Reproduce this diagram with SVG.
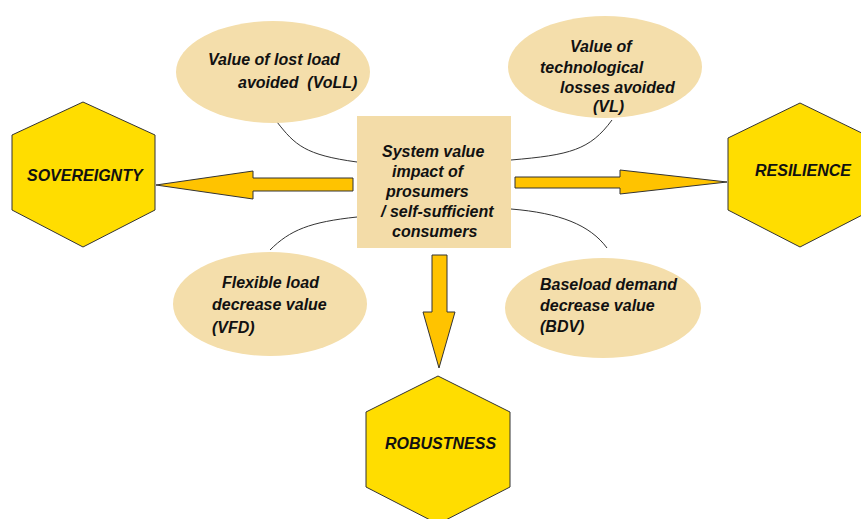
<svg xmlns="http://www.w3.org/2000/svg" width="861" height="519" viewBox="0 0 861 519">
<style>
.hex{fill:#FFDD00;stroke:#333;stroke-width:1}
.arr{fill:#FFC300;stroke:#333;stroke-width:1}
.ell{fill:#F4DEAB}
.box{fill:#F3DCA8}
.con{fill:none;stroke:#333;stroke-width:1}
text{font-family:"Liberation Sans",Arial,sans-serif;font-weight:bold;font-style:italic;font-size:16px;fill:#111}
</style>
<rect width="861" height="519" fill="#fff"/>
<g id="connectors">
<path class="con" d="M277,122 C295,145 305,155 357,162"/>
<path class="con" d="M612,120 C590,150 570,155 511,160"/>
<path class="con" d="M357,217 C310,222 290,230 270,250"/>
<path class="con" d="M511,209 C560,213 590,225 607,248"/>
<path class="arr" d="M353,178 L253,178 L253,171 L156,185 L253,199 L253,191 L353,191 Z"/>
<path class="arr" d="M515,177 L620,177 L620,170 L727,182 L620,194 L620,188 L515,188 Z"/>
<path class="arr" d="M432,255 L447,255 L447,312 L455,312 L439,368 L423,312 L432,312 Z"/>
</g>
<g id="voll">
<ellipse class="ell" cx="273" cy="72" rx="97" ry="51"/>
<text x="208" y="65">Value of lost load</text>
<text x="238" y="88" xml:space="preserve">avoided  (VoLL)</text>
</g>
<g id="vl">
<ellipse class="ell" cx="605" cy="67" rx="97" ry="51"/>
<text x="570" y="52">Value of</text>
<text x="540" y="73">technological</text>
<text x="560" y="93">losses avoided</text>
<text x="593" y="112">(VL)</text>
</g>
<g id="vfd">
<ellipse class="ell" cx="270" cy="304" rx="97" ry="52"/>
<text x="222" y="288">Flexible load</text>
<text x="212" y="310">decrease value</text>
<text x="212" y="333">(VFD)</text>
</g>
<g id="bdv">
<ellipse class="ell" cx="603" cy="308" rx="98" ry="50"/>
<text x="540" y="290">Baseload demand</text>
<text x="540" y="311">decrease value</text>
<text x="540" y="332">(BDV)</text>
</g>
<g id="center">
<rect class="box" x="357" y="116" width="154" height="132"/>
<text x="382" y="157">System value</text>
<text x="392" y="177">impact of</text>
<text x="386" y="197">prosumers</text>
<text x="381" y="217">/ self-sufficient</text>
<text x="392" y="237">consumers</text>
</g>
<g id="sovereignty">
<polygon class="hex" points="83,102 155,135 155,210 83,247 12,210 12,135"/>
<text x="27" y="181">SOVEREIGNTY</text>
</g>
<g id="resilience">
<polygon class="hex" points="800,103 872,138 872,210 800,247 728,210 728,138"/>
<text x="755" y="176">RESILIENCE</text>
</g>
<g id="robustness">
<polygon class="hex" points="438,376 510,412 510,487 438,524 366,487 366,412"/>
<text x="385" y="449">ROBUSTNESS</text>
</g>
</svg>
